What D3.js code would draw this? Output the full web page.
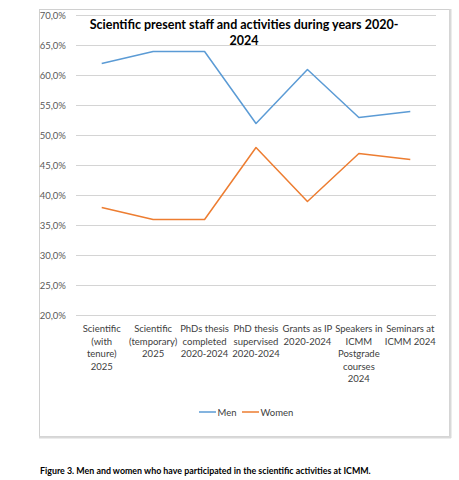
<!DOCTYPE html>
<html>
<head>
<meta charset="utf-8">
<script src="https://cdn.jsdelivr.net/npm/d3@7"></script>
<style>
  body { margin: 0; background: #fff; }
  text { font-family: Lato, "Open Sans", sans-serif; }
</style>
</head>
<body>
<svg id="chart" width="459" height="480"></svg>
<script>
'use strict';

// chart data
var categories = [
  ['Scientific', '(with', 'tenure)', '2025'],
  ['Scientific', '(temporary)', '2025'],
  ['PhDs thesis', 'completed', '2020-2024'],
  ['PhD thesis', 'supervised', '2020-2024'],
  ['Grants as IP', '2020-2024'],
  ['Speakers in', 'ICMM', 'Postgrade', 'courses', '2024'],
  ['Seminars at', 'ICMM 2024']
];
var men = [62, 64, 64, 52, 61, 53, 54];
var women = [38, 36, 36, 48, 39, 47, 46];
var yTicks = [20, 25, 30, 35, 40, 45, 50, 55, 60, 65, 70];
var seriesNames = ['Men', 'Women'];
var seriesColors = ['#5B9BD5', '#ED7D31'];

var svg = d3.select('#chart');

// outer chart frame
svg.append('rect')
  .attr('x', 39.5).attr('y', 9.5)
  .attr('width', 410).attr('height', 427)
  .attr('fill', '#fff')
  .attr('stroke', '#d0d0d0')
  .attr('stroke-width', 1);
svg.append('line')
  .attr('x1', 39).attr('x2', 451)
  .attr('y1', 437.5).attr('y2', 437.5)
  .attr('stroke', '#d9d9d9').attr('stroke-width', 2);
svg.append('line')
  .attr('x1', 450.5).attr('x2', 450.5)
  .attr('y1', 9).attr('y2', 438)
  .attr('stroke', '#d9d9d9').attr('stroke-width', 2);

var x = d3.scaleBand()
  .domain(d3.range(categories.length))
  .range([76, 436]);

var y = d3.scaleLinear()
  .domain([20, 70])
  .range([315.5, 15.5]);

var fmt = function (v) { return v.toFixed(1).replace('.', ',') + '%'; };

// gridlines
svg.append('g')
  .selectAll('line')
  .data(yTicks)
  .enter()
  .append('line')
  .attr('x1', 76).attr('x2', 436)
  .attr('y1', function (d) { return y(d); })
  .attr('y2', function (d) { return y(d); })
  .attr('stroke', '#d4d4d4')
  .attr('stroke-width', 1);

// y labels
svg.append('g')
  .selectAll('text')
  .data(yTicks)
  .enter()
  .append('text')
  .attr('x', 66)
  .attr('y', function (d) { return y(d) + 3; })
  .attr('text-anchor', 'end')
  .attr('font-size', '9.5px')
  .attr('fill', '#595959')
  .text(fmt);

// title
var title = svg.append('text')
  .attr('text-anchor', 'middle')
  .attr('font-size', '12.5px')
  .attr('font-weight', 'bold')
  .attr('fill', '#000');
title.append('tspan').attr('x', 244).attr('y', 29)
  .text('Scientific present staff and activities during years 2020-');
title.append('tspan').attr('x', 244).attr('y', 45).text('2024');

// x category labels
var cx = function (i) { return x(i) + x.bandwidth() / 2; };
var xLab = svg.append('g')
  .selectAll('text')
  .data(categories)
  .enter()
  .append('text')
  .attr('text-anchor', 'middle')
  .attr('font-size', '9.5px')
  .attr('fill', '#404040');
xLab.selectAll('tspan')
  .data(function (d, i) {
    return d.map(function (t, k) { return { t: t, i: i, k: k }; });
  })
  .enter()
  .append('tspan')
  .attr('x', function (d) { return cx(d.i); })
  .attr('y', function (d) { return 332 + d.k * 12.6; })
  .text(function (d) { return d.t; });

// lines
var line = d3.line()
  .x(function (d, i) { return cx(i); })
  .y(function (d) { return y(d); });

[men, women].forEach(function (s, k) {
  svg.append('path')
    .datum(s)
    .attr('fill', 'none')
    .attr('stroke', seriesColors[k])
    .attr('stroke-width', 1.5)
    .attr('stroke-linejoin', 'round')
    .attr('d', line);
});

// legend
var legendX = [199, 242];
var leg = svg.append('g')
  .selectAll('g')
  .data(seriesNames)
  .enter()
  .append('g')
  .attr('transform', function (d, i) { return 'translate(' + [legendX[i], 412] + ')'; });
leg.append('line')
  .attr('x1', 0).attr('x2', 17)
  .attr('stroke', function (d, i) { return seriesColors[i]; })
  .attr('stroke-width', 1.5);
leg.append('text')
  .attr('x', 18.5).attr('y', 3.5)
  .attr('font-size', '9.5px')
  .attr('fill', '#404040')
  .text(function (d) { return d; });

// caption below the chart
svg.append('text')
  .attr('x', 40).attr('y', 474)
  .attr('font-size', '8.85px')
  .attr('font-weight', 'bold')
  .attr('fill', '#000')
  .text('Figure 3. Men and women who have participated in the scientific activities at ICMM.');
</script>
</body>
</html>
